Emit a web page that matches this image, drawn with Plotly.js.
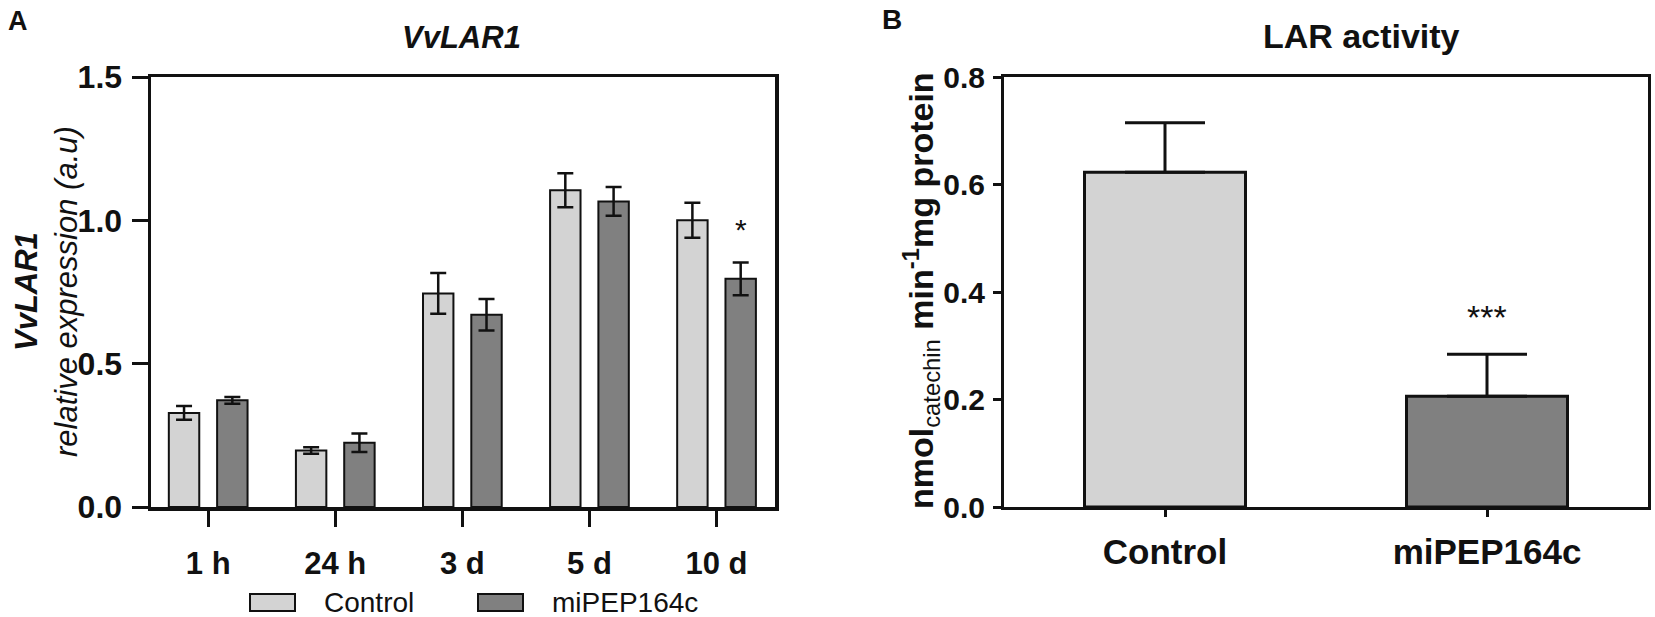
<!DOCTYPE html>
<html>
<head>
<meta charset="utf-8">
<script src="https://cdn.plot.ly/plotly-3.0.1.min.js"></script>
<style>
  html, body { margin: 0; padding: 0; background: #fff; }
  #chart { width: 1655px; height: 617px; }
</style>
</head>
<body>
<div id="chart"></div>
<script>
/* ── Panel A: VvLAR1 relative expression ── */
var timeLabels   = ['1 h', '24 h', '3 d', '5 d', '10 d'];
var controlMean  = [0.328, 0.197, 0.745, 1.105, 1.000];
var controlErr   = [0.024, 0.011, 0.071, 0.059, 0.061];
var mipepMean    = [0.372, 0.224, 0.671, 1.066, 0.796];
var mipepErr     = [0.012, 0.032, 0.055, 0.050, 0.057];
var aTickVals    = [0, 0.5, 1.0, 1.5];

/* ── Panel B: LAR activity ── */
var groupLabels  = ['Control', 'miPEP164c'];
var activityMean = [0.623, 0.206];
var activityErr  = [0.092, 0.078];
var bTickVals    = [0, 0.2, 0.4, 0.6, 0.8];

var LIGHT = '#d3d3d3';
var DARK  = '#808080';
var INK   = '#111111';
var FONT  = '"Liberation Sans", Arial, sans-serif';

var W = 1655, H = 617;
function px(x) { return x / W; }
function py(y) { return 1 - y / H; }

var traces = [
  {
    type: 'bar', name: 'Control', x: timeLabels, y: controlMean,
    xaxis: 'x', yaxis: 'y',
    marker: { color: LIGHT, line: { color: INK, width: 2 } },
    error_y: { type: 'data', array: controlErr, visible: true, color: INK, thickness: 2.5, width: 8 },
    showlegend: false
  },
  {
    type: 'bar', name: 'miPEP164c', x: timeLabels, y: mipepMean,
    xaxis: 'x', yaxis: 'y',
    marker: { color: DARK, line: { color: INK, width: 2 } },
    error_y: { type: 'data', array: mipepErr, visible: true, color: INK, thickness: 2.5, width: 8 },
    showlegend: false
  },
  {
    type: 'bar', x: groupLabels, y: activityMean, width: 0.5,
    xaxis: 'x2', yaxis: 'y2',
    marker: { color: [LIGHT, DARK], line: { color: INK, width: 3 } },
    error_y: {
      type: 'data', symmetric: false, array: activityErr,
      arrayminus: activityMean.map(function () { return 0; }),
      visible: true, color: INK, thickness: 3, width: 40
    },
    showlegend: false
  }
];

var domY = [py(507), py(77)];

var axisBase = {
  showline: true, linecolor: INK, linewidth: 3.5, mirror: true,
  showgrid: false, zeroline: false, fixedrange: true,
  ticks: 'outside', tickcolor: INK, tickwidth: 3
};

function merge(a, b) {
  var o = {}, k;
  for (k in a) o[k] = a[k];
  for (k in b) o[k] = b[k];
  return o;
}

var ann = [
  /* panel letters */
  { x: px(18), y: py(21), text: '<b>A</b>', font: { size: 27 } },
  { x: px(892), y: py(19), text: '<b>B</b>', font: { size: 28 } },
  /* panel titles */
  { x: px(462), y: py(37), text: '<b><i>VvLAR1</i></b>', font: { size: 31 } },
  { x: px(1361), y: py(36), text: '<b>LAR activity</b>', font: { size: 34 } },
  /* y titles */
  { x: px(46), y: py(292), textangle: -90,
    text: '<b><i>VvLAR1</i></b><br><i>relative expression (a.u)</i>', font: { size: 31 } },
  { x: px(921), y: py(291), textangle: -90,
    text: '<b>nmol</b><sub>catechin</sub><b> min<sup>-1</sup>mg protein</b>', font: { size: 34 } },
  /* legend labels */
  { x: px(322), y: py(602), xanchor: 'left', text: 'Control', font: { size: 28 } },
  { x: px(550), y: py(602), xanchor: 'left', text: 'miPEP164c', font: { size: 28 } },
  /* significance */
  { xref: 'x', yref: 'y', x: timeLabels[4], xshift: 24,
    y: mipepMean[4] + mipepErr[4], yanchor: 'bottom', yshift: 14,
    text: '*', font: { size: 30 } },
  { xref: 'x2', yref: 'y2', x: groupLabels[1],
    y: activityMean[1] + activityErr[1], yanchor: 'bottom', yshift: 16,
    text: '***', font: { size: 34 } }
].map(function (a) {
  var o = merge({ xref: 'paper', yref: 'paper', showarrow: false,
                  xanchor: 'center', yanchor: 'middle' }, a);
  o.font = merge({ family: FONT, color: INK }, a.font || {});
  return o;
});

var shapes = [
  { type: 'rect', xref: 'paper', yref: 'paper',
    x0: px(250), x1: px(295), y0: py(611), y1: py(594),
    fillcolor: LIGHT, line: { color: INK, width: 2 } },
  { type: 'rect', xref: 'paper', yref: 'paper',
    x0: px(478), x1: px(523), y0: py(611), y1: py(594),
    fillcolor: DARK, line: { color: INK, width: 2 } }
];

var layout = {
  width: W, height: H,
  margin: { l: 0, r: 0, t: 0, b: 0 },
  paper_bgcolor: '#fff', plot_bgcolor: '#fff',
  font: { family: FONT, color: INK },
  barmode: 'group', bargap: 0.24, bargroupgap: 0.37,
  showlegend: false,
  xaxis: merge(axisBase, {
    domain: [px(151), px(775)], anchor: 'y',
    type: 'category', range: [-0.45, 4.46],
    ticklen: 16, ticklabelstandoff: 10,
    tickfont: { size: 31, weight: 'bold', family: FONT, color: INK }
  }),
  yaxis: merge(axisBase, {
    domain: domY, anchor: 'x',
    range: [0, 1.5], tickvals: aTickVals, tickformat: '.1f',
    ticklen: 16, ticklabelstandoff: 3,
    tickfont: { size: 32, weight: 'bold', family: FONT, color: INK }
  }),
  xaxis2: merge(axisBase, {
    domain: [px(1004), px(1648)], anchor: 'y2',
    type: 'category', range: [-0.5, 1.5],
    linewidth: 3, ticklen: 7, ticklabelstandoff: 5,
    tickfont: { size: 35, weight: 'bold', family: FONT, color: INK }
  }),
  yaxis2: merge(axisBase, {
    domain: domY, anchor: 'x2',
    range: [0, 0.8], tickvals: bTickVals, tickformat: '.1f',
    linewidth: 3, ticklen: 8, ticklabelstandoff: 2,
    tickfont: { size: 30, weight: 'bold', family: FONT, color: INK }
  }),
  annotations: ann,
  shapes: shapes
};

Plotly.newPlot('chart', traces, layout, { displayModeBar: false, staticPlot: true });
</script>
</body>
</html>
